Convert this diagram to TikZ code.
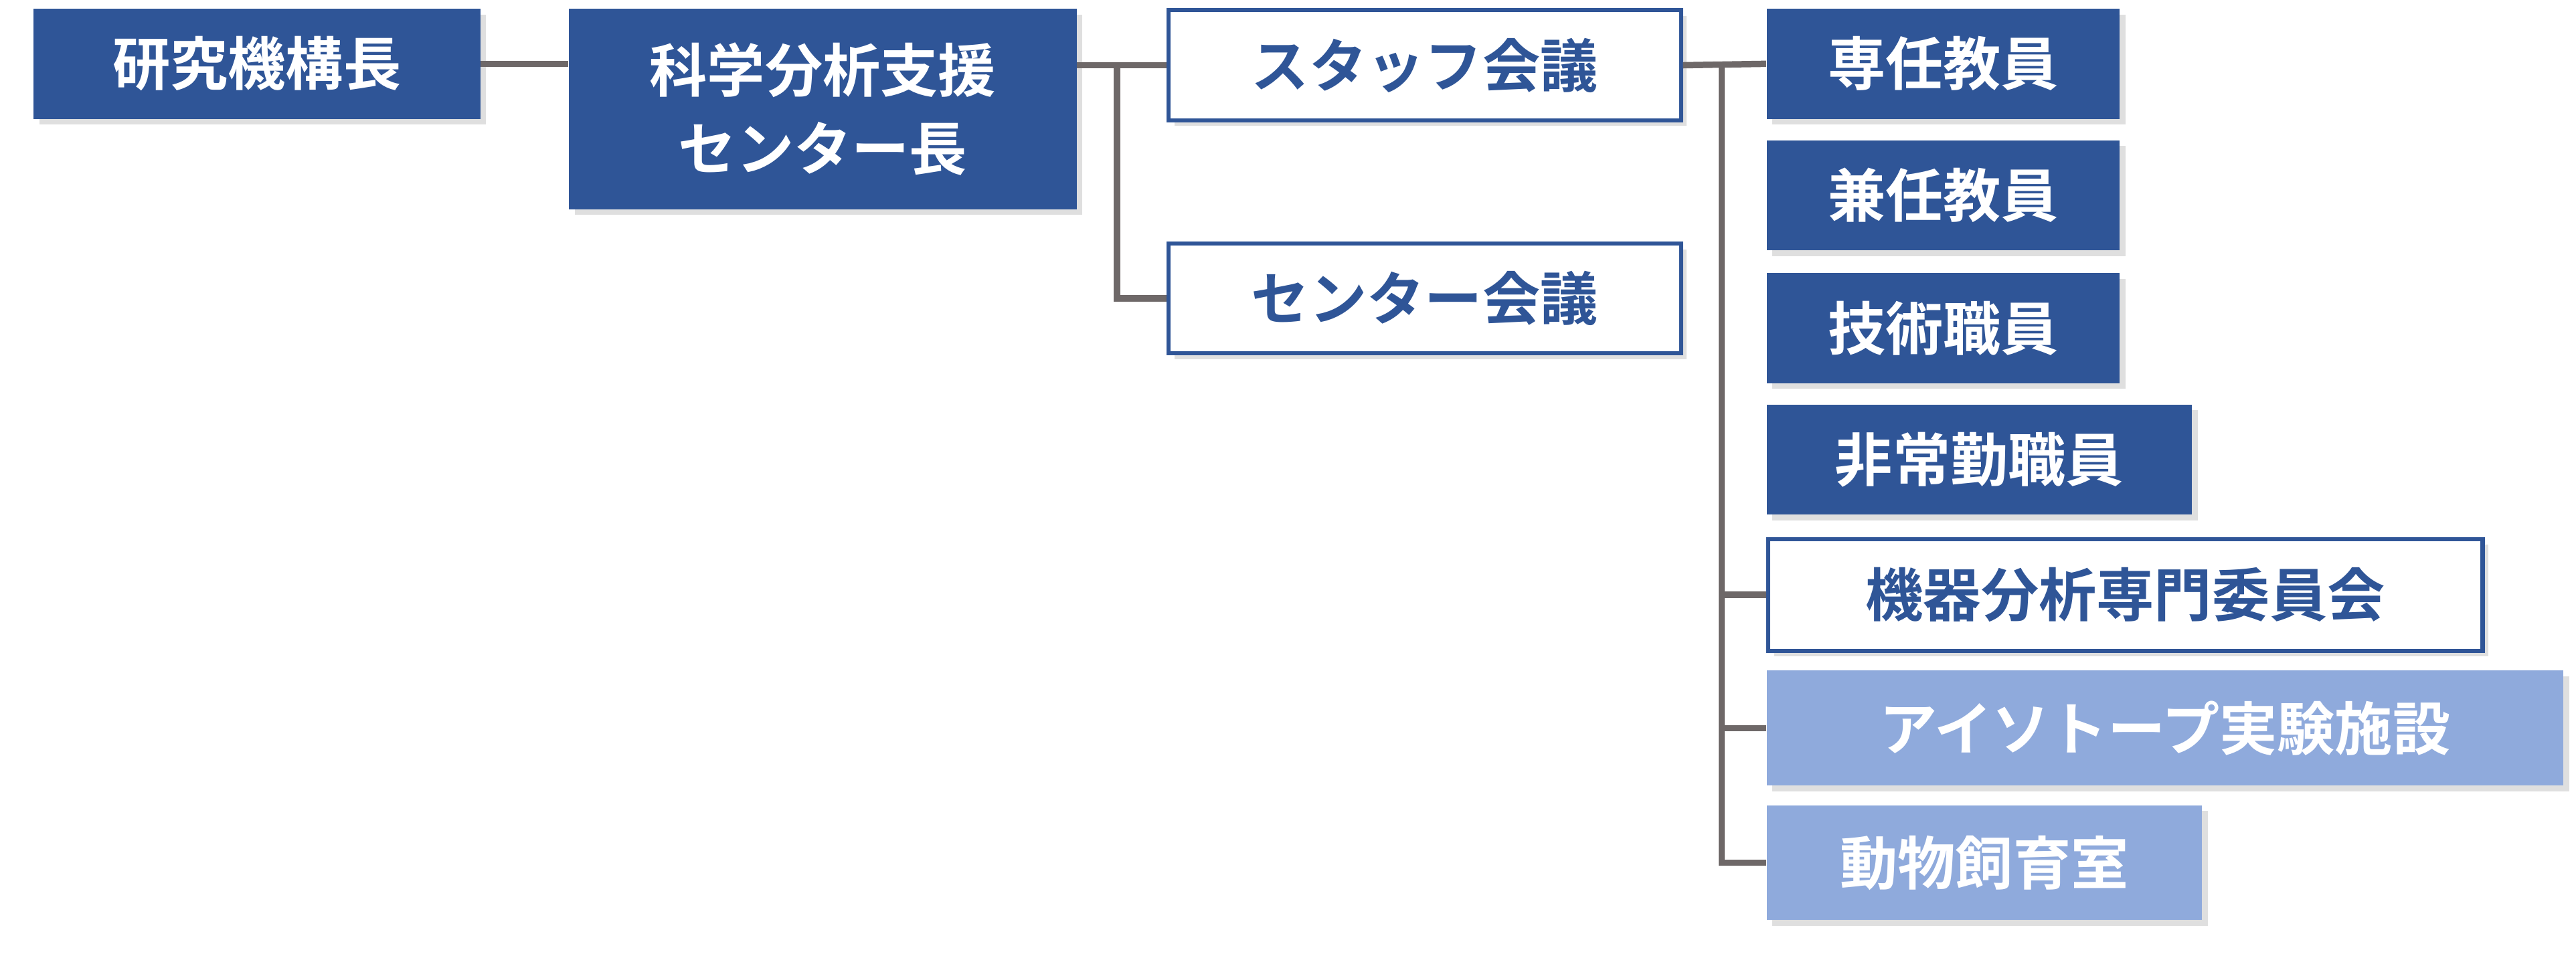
\documentclass[tikz,border=0pt]{standalone}
\usepackage{fontspec}
\newfontfamily\jpfont{Noto Sans CJK JP}[BoldFont={Noto Sans CJK JP Bold}]
\usetikzlibrary{shadows}
\definecolor{darkblue}{HTML}{2F5597}
\definecolor{lightblue}{HTML}{8FAADC}
\definecolor{linegray}{HTML}{6E6868}
\tikzset{
  base/.style={anchor=north west, inner sep=0pt, align=center,
    font=\jpfont\bfseries\fontsize{20}{27}\selectfont,
    drop shadow={shadow xshift=2pt, shadow yshift=-2pt, opacity=0.25}},
  darkbox/.style={base, fill=darkblue, text=white},
  whitebox/.style={base, fill=white, draw=darkblue, line width=1.4pt, text=darkblue},
  lightbox/.style={base, fill=lightblue, text=white},
  link/.style={draw=linegray, line width=2.2pt}
}
\begin{document}
\begin{tikzpicture}[x=0.02cm, y=-0.02cm]
  \useasboundingbox (0,0) rectangle (1568,582);

  %% left part
  \node[darkbox, minimum width=5.44cm, minimum height=1.34cm] (kikou) at (20,5) {研究機構長};
  \node[darkbox, minimum width=6.18cm, minimum height=2.44cm] (chou) at (346,5) {科学分析支援\\センター長};
  \node[whitebox, minimum width=6.24cm, minimum height=1.34cm] (staff) at (710,5) {スタッフ会議};
  \node[whitebox, minimum width=6.24cm, minimum height=1.34cm] (kaigi) at (710,147) {センター会議};

  %% right column
  \node[darkbox, minimum width=4.3cm, minimum height=1.34cm] (sennin) at (1075,5) {専任教員};
  \node[darkbox, minimum width=4.3cm, minimum height=1.34cm] (kennin) at (1075,85) {兼任教員};
  \node[darkbox, minimum width=4.3cm, minimum height=1.34cm] (gijutsu) at (1075,166) {技術職員};
  \node[darkbox, minimum width=5.18cm, minimum height=1.34cm] (hijoukin) at (1075,246) {非常勤職員};
  \node[whitebox, minimum width=8.7cm, minimum height=1.36cm] (iinkai) at (1075,327) {機器分析専門委員会};
  \node[lightbox, minimum width=9.7cm, minimum height=1.4cm] (isotope) at (1075,408) {アイソトープ実験施設};
  \node[lightbox, minimum width=5.3cm, minimum height=1.4cm] (doubutsu) at (1075,490) {動物飼育室};

  %% connectors
  \coordinate (j1) at (680,39);
  \coordinate (j2) at (1048,39);
  \draw[link] (kikou.east) -- (kikou.east -| chou.west);
  \draw[link] (staff.west -| chou.east) -- (staff.west);
  \draw[link] (j1) |- (kaigi.west);
  \draw[link] (staff.east) -- (sennin.west);
  \draw[link] (j2) |- (doubutsu.west);
  \draw[link] (j2 |- iinkai.west) -- (iinkai.west);
  \draw[link] (j2 |- isotope.west) -- (isotope.west);
\end{tikzpicture}
\end{document}
